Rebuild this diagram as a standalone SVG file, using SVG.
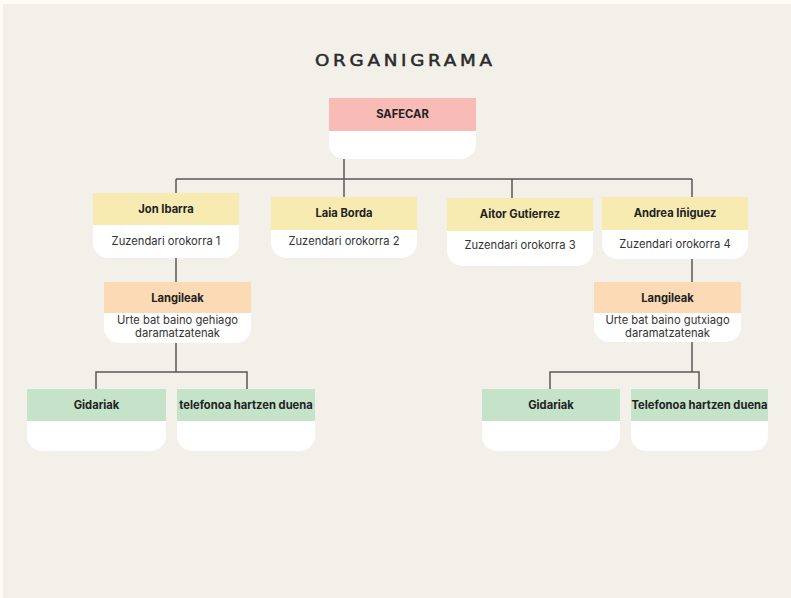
<svg xmlns="http://www.w3.org/2000/svg" width="791" height="598" viewBox="0 0 791 598">
<style>
.b{font-family:Inter,"Liberation Sans",sans-serif;font-weight:700;font-size:11.2px;fill:#222;text-anchor:middle}
.r{font-family:Inter,"Liberation Sans",sans-serif;font-size:11.2px;fill:#333;text-anchor:middle}
.w{fill:#fff}
.con{fill:none;stroke:#5a5a5a;stroke-width:1.5}
</style>
<rect x="0" y="0" width="791" height="598" fill="#fffcf4"/>
<rect x="3" y="4" width="788" height="594" fill="#f3efe9"/>
<text transform="translate(315 66) scale(1.18 1)" x="0" y="0" font-family="DejaVu Sans,sans-serif" font-size="15.5" textLength="150" lengthAdjust="spacing" fill="#2a2a2a" stroke="#2a2a2a" stroke-width="0.5">ORGANIGRAMA</text>
<g id="connectors" class="con">
<path d="M344 159V179M176 179H692M176 179V193M344 179V197M512 179V198M692 179V197"/>
<path d="M176 258V283M176 343V372M96 389V372H247V389"/>
<path d="M692 259V283M692 342V372M550 389V372H699V389"/>
</g>
<g id="safecar">
<path class="w" d="M329 130H476V144A15 15 0 0 1 461 159H344A15 15 0 0 1 329 144Z"/>
<rect x="329" y="98" width="147" height="33" fill="#f8bbb5"/>
<text class="b" x="402.5" y="118">SAFECAR</text>
</g>
<g id="jon">
<path class="w" d="M93 224H239V243A15 15 0 0 1 224 258H108A15 15 0 0 1 93 243Z"/>
<rect x="93" y="193" width="146" height="32" fill="#f7ebb2"/>
<text class="b" x="166" y="213">Jon Ibarra</text>
<text class="r" x="166" y="245">Zuzendari orokorra 1</text>
</g>
<g id="laia">
<path class="w" d="M271 229H417V243A15 15 0 0 1 402 258H286A15 15 0 0 1 271 243Z"/>
<rect x="271" y="197" width="146" height="33" fill="#f7ebb2"/>
<text class="b" x="344" y="217">Laia Borda</text>
<text class="r" x="344" y="245">Zuzendari orokorra 2</text>
</g>
<g id="aitor">
<path class="w" d="M447 230H593V251A15 15 0 0 1 578 266H462A15 15 0 0 1 447 251Z"/>
<rect x="447" y="198" width="146" height="33" fill="#f7ebb2"/>
<text class="b" x="520" y="218">Aitor Gutierrez</text>
<text class="r" x="520" y="249">Zuzendari orokorra 3</text>
</g>
<g id="andrea">
<path class="w" d="M602 229H748V244A15 15 0 0 1 733 259H617A15 15 0 0 1 602 244Z"/>
<rect x="602" y="197" width="146" height="33" fill="#f7ebb2"/>
<text class="b" x="675" y="217">Andrea Iñiguez</text>
<text class="r" x="675" y="248">Zuzendari orokorra 4</text>
</g>
<g id="langileak1">
<path class="w" d="M104 312H251V328A15 15 0 0 1 236 343H119A15 15 0 0 1 104 328Z"/>
<rect x="104" y="282" width="147" height="31" fill="#fbdab5"/>
<text class="b" x="177.5" y="302">Langileak</text>
<text class="r" x="177.5" y="324">Urte bat baino gehiago</text>
<text class="r" x="177.5" y="337">daramatzatenak</text>
</g>
<g id="langileak2">
<path class="w" d="M594 312H741V327A15 15 0 0 1 726 342H609A15 15 0 0 1 594 327Z"/>
<rect x="594" y="282" width="147" height="31" fill="#fbdab5"/>
<text class="b" x="667.5" y="302">Langileak</text>
<text class="r" x="667.5" y="324">Urte bat baino gutxiago</text>
<text class="r" x="667.5" y="337">daramatzatenak</text>
</g>
<g id="gidariak1">
<path class="w" d="M27 420H166V436A15 15 0 0 1 151 451H42A15 15 0 0 1 27 436Z"/>
<rect x="27" y="389" width="139" height="32" fill="#c4e3c9"/>
<text class="b" x="96.5" y="409">Gidariak</text>
</g>
<g id="telefonoa1">
<path class="w" d="M177 420H315V436A15 15 0 0 1 300 451H192A15 15 0 0 1 177 436Z"/>
<rect x="177" y="389" width="138" height="32" fill="#c4e3c9"/>
<text class="b" x="246" y="409">telefonoa hartzen duena</text>
</g>
<g id="gidariak2">
<path class="w" d="M482 420H620V436A15 15 0 0 1 605 451H497A15 15 0 0 1 482 436Z"/>
<rect x="482" y="389" width="138" height="32" fill="#c4e3c9"/>
<text class="b" x="551" y="409">Gidariak</text>
</g>
<g id="telefonoa2">
<path class="w" d="M631 420H768V436A15 15 0 0 1 753 451H646A15 15 0 0 1 631 436Z"/>
<rect x="631" y="389" width="137" height="32" fill="#c4e3c9"/>
<text class="b" x="699.5" y="409">Telefonoa hartzen duena</text>
</g>
</svg>
